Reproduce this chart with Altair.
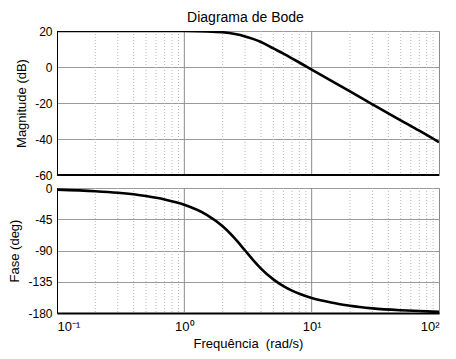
import altair as alt
import pandas as pd

freq = [0.1, 0.2, 0.3, 0.5, 0.7, 1, 1.5, 2, 2.5, 3, 3.5, 4, 5, 6, 7, 8, 10, 15, 20, 30, 50, 70, 100]
mag_db = [20, 20, 20, 20, 20, 20, 19.8, 19.3, 18.3, 17, 15.5, 13.9, 10.3, 7.4, 4.8, 2.5, -1.5, -8.6, -13.6, -20.7, -29.6, -35.4, -41.8]
phase_deg = [-2.3, -4.6, -6.9, -11.6, -16.5, -24.2, -38.7, -55.2, -73, -90, -104.5, -116, -131.6, -141.3, -147.8, -152.4, -158.4, -165.5, -169.6, -173.3, -176, -177.2, -178.3]

major_freq = [1, 10]
minor_freq = [0.2, 0.3, 0.4, 0.5, 0.6, 0.7, 0.8, 0.9,
              2, 3, 4, 5, 6, 7, 8, 9,
              20, 30, 40, 50, 60, 70, 80, 90]
mag_ticks = [20, 0, -20, -40, -60]
phase_ticks = [0, -45, -90, -135, -180]
x_ticks = [0.1, 1, 10, 100]

FONT = "Liberation Sans"

df = pd.DataFrame({"w": freq, "mag": mag_db, "phase": phase_deg})
df_major = pd.DataFrame({"w": major_freq})
df_minor = pd.DataFrame({"w": minor_freq})

xscale = alt.Scale(type="log", domain=[0.1, 100], nice=False)


def panel(field, ticks, dom, ytitle, h, show_x):
    if show_x:
        xaxis = alt.Axis(values=x_ticks, grid=False, ticks=False,
                         labelExpr="datum.value == 0.1 ? '10⁻¹' : datum.value == 1 ? '10⁰' : datum.value == 10 ? '10¹' : '10²'",
                         title="Frequência\u00a0\u00a0(rad/s)", titleFontWeight="normal",
                         titleFontSize=13, labelFontSize=13, labelPadding=7, titlePadding=4,
                         domainColor="black", domainWidth=2, labelColor="black", titleColor="black",
                         labelFont=FONT, titleFont=FONT)
    else:
        xaxis = None
    yscale = alt.Scale(domain=dom, nice=False)
    yaxis = alt.Axis(values=ticks, grid=True, gridColor="#9a9a9a", gridWidth=1, ticks=False,
                     labelExpr="'' + datum.value", labelOverlap=False,
                     title=ytitle, titleFontWeight="normal", titleFontSize=13,
                     labelFontSize=12, labelPadding=5, titlePadding=6,
                     domainColor="black", domainWidth=1, labelColor="black", titleColor="black",
                     labelFont=FONT, titleFont=FONT)
    minor = alt.Chart(df_minor).mark_rule(color="#b8b8b8", strokeDash=[1, 2], strokeWidth=1).encode(
        x=alt.X("w:Q", scale=xscale, axis=xaxis))
    major = alt.Chart(df_major).mark_rule(color="#8c8c8c", strokeWidth=1).encode(
        x=alt.X("w:Q", scale=xscale))
    line = alt.Chart(df).mark_line(color="black", strokeWidth=2.6, interpolate="monotone", clip=True).encode(
        x=alt.X("w:Q", scale=xscale),
        y=alt.Y(f"{field}:Q", scale=yscale, axis=yaxis, title=ytitle))
    layers = [minor, major, line]
    if not show_x:
        bdf = pd.DataFrame({field: [dom[0]]})
        base = alt.Chart(bdf).mark_rule(color="black", strokeWidth=2).encode(
            y=alt.Y(f"{field}:Q", scale=yscale, axis=yaxis, title=ytitle))
        layers.append(base)
    return alt.layer(*layers).properties(width=382, height=h)


top = panel("mag", mag_ticks, [-60, 20], "Magnitude (dB)", 144, False)
bottom = panel("phase", phase_ticks, [-180, 0], "Fase (deg)", 125, True)

chart = alt.vconcat(top, bottom, spacing=13, bounds="flush").properties(
    title=alt.TitleParams("Diagrama de Bode", fontSize=14, fontWeight="normal", font=FONT,
                          anchor="middle", color="black", offset=0, dx=21),
    padding={"left": 0, "top": 2, "right": 5, "bottom": 2},
    background="white",
).configure_view(stroke="#8c8c8c", strokeWidth=1)

chart.save("out.html", embed_options={"renderer": "svg", "actions": False})
